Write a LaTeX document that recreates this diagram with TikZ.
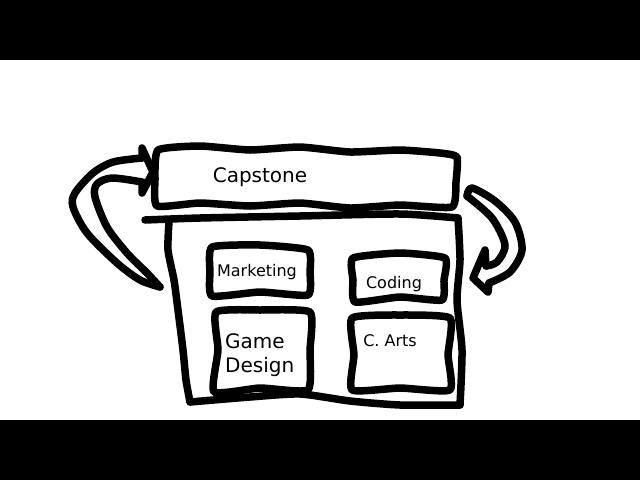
\documentclass[tikz,border=0pt]{standalone}
\usepackage{fontspec}
\setmainfont{DejaVu Sans}
\usetikzlibrary{positioning}

\begin{document}
\begin{tikzpicture}[line cap=round,line join=round,x=1pt,y=-1pt,
  sketch/.style={line width=7.5pt,black},
  label/.style={inner sep=0pt,font=\fontsize{16}{19}\selectfont},
  biglabel/.style={inner sep=0pt,font=\fontsize{20}{24}\selectfont,align=left}]
\useasboundingbox (0,0) rectangle (640,480);
\fill[white] (0,0) rectangle (640,480);
\fill[black] (0,0) rectangle (640,60);
\fill[black] (0,420) rectangle (640,480);
% capstone bar
\draw[sketch] plot[smooth cycle,tension=0.3] coordinates {(158,150) (200,146) (250,150) (300,147) (350,152) (400,150) (440,153) (457,157) (456,182) (452,207) (400,205) (350,208) (300,203) (250,206) (200,203) (157,206) (155,180)};
% main box
\draw[sketch] plot[smooth,tension=0.4] coordinates {(145,220) (200,218) (300,216) (400,214) (458,218)};
\draw[sketch] plot[smooth,tension=0.4] coordinates {(458,218) (460,260) (457,300) (462,350) (460,405)};
\draw[sketch] plot[smooth,tension=0.4] coordinates {(169,222) (168,250) (174,280) (178,310) (183,350) (186,380) (190,402)};
\draw[sketch] plot[smooth,tension=0.4] coordinates {(190,402) (250,397) (300,394) (350,401) (400,405) (460,405)};
% inner boxes
\draw[sketch] plot[smooth cycle,tension=0.3] coordinates {(212,247) (260,245) (308,250) (310,272) (308,295) (260,292) (212,296) (210,272)};
\draw[sketch] plot[smooth cycle,tension=0.3] coordinates {(353,258) (400,253) (445,258) (444,280) (442,300) (400,297) (355,302) (353,280)};
\draw[sketch] plot[smooth cycle,tension=0.3] coordinates {(216,312) (260,310) (310,312) (310,350) (308,390) (260,388) (214,392) (218,350)};
\draw[sketch] plot[smooth cycle,tension=0.3] coordinates {(352,318) (400,315) (450,318) (448,355) (450,390) (400,388) (352,390) (354,355)};
% left arrow
\draw[sketch] plot[smooth,tension=0.5] coordinates {(142,158) (113,162) (93,173) (75,193) (73,207) (87,233) (117,263) (140,280) (160,287)};
\draw[sketch] plot[smooth,tension=0.5] coordinates {(160,287) (147,273) (127,253) (107,227) (95,197) (97,184) (112,178) (142,182)};
\draw[sketch] (142,182) -- (142,193) -- (153,172) -- (142,148) -- (142,158);
% right arrow
\draw[sketch] plot[smooth,tension=0.5] coordinates {(489,283) (510,272) (522,250) (515,222) (495,201) (472,188) (467,196)};
\draw[sketch] plot[smooth,tension=0.5] coordinates {(467,196) (492,218) (505,245) (497,262) (486,266)};
\draw[sketch] (486,266) -- (485,250) -- (473,278) -- (488,292) -- (489,283);
% labels
\node[biglabel] (capstone) at (260,177) {Capstone};
\node[label] (marketing) at (257,272) {Marketing};
\node[label] (coding) at (394,284) {Coding};
\node[biglabel,anchor=west] (gamedesign) at (225,355) {Game\\Design};
\node[label] (carts) at (390,341) {C. Arts};
\end{tikzpicture}
\end{document}
